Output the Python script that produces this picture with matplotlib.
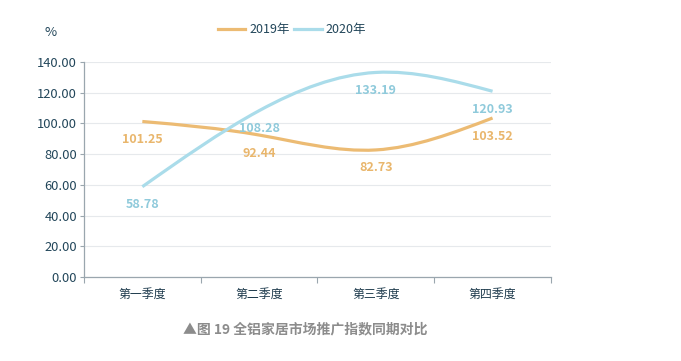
import numpy as np
import matplotlib
matplotlib.use('Agg')
import matplotlib.pyplot as plt
from matplotlib.path import Path
from matplotlib.patches import PathPatch
from matplotlib.lines import Line2D

plt.rcParams['font.family'] = ['Noto Sans CJK SC', 'DejaVu Sans']

quarters = ['第一季度', '第二季度', '第三季度', '第四季度']
series_names = ['2019年', '2020年']
v2019 = [101.25, 92.44, 82.73, 103.52]
v2020 = [58.78, 108.28, 133.19, 120.93]
colors = ['#ecbb73', '#aadcea']
label_colors = ['#e9b66c', '#8fcadb']
yticks = [0, 20, 40, 60, 80, 100, 120, 140]

fig = plt.figure(figsize=(6.81, 3.61), dpi=100)
ax = fig.add_axes([0.1233, 0.2327, 0.6857, 0.5956])
ax.set_xlim(-0.5, 3.5)
ax.set_ylim(0, 140)


def spline_path(xs, ys):
    # natural cubic spline through the points, written as bezier segments
    xs = np.asarray(xs, float)
    ys = np.asarray(ys, float)
    n = len(xs)
    h = np.diff(xs)
    A = np.zeros((n, n))
    b = np.zeros(n)
    A[0, 0] = A[-1, -1] = 1
    for i in range(1, n - 1):
        A[i, i - 1] = h[i - 1]
        A[i, i] = 2 * (h[i - 1] + h[i])
        A[i, i + 1] = h[i]
        b[i] = 6 * ((ys[i + 1] - ys[i]) / h[i] - (ys[i] - ys[i - 1]) / h[i - 1])
    M = np.linalg.solve(A, b)
    verts = [(xs[0], ys[0])]
    codes = [Path.MOVETO]
    for i in range(n - 1):
        d = (ys[i + 1] - ys[i]) / h[i]
        m0 = d - h[i] * (2 * M[i] + M[i + 1]) / 6
        m1 = d + h[i] * (M[i] + 2 * M[i + 1]) / 6
        verts += [(xs[i] + h[i] / 3, ys[i] + m0 * h[i] / 3),
                  (xs[i + 1] - h[i] / 3, ys[i + 1] - m1 * h[i] / 3),
                  (xs[i + 1], ys[i + 1])]
        codes += [Path.CURVE4] * 3
    return Path(verts, codes)


x = np.arange(len(quarters))
for vals, c, lc in zip([v2019, v2020], colors, label_colors):
    patch = PathPatch(spline_path(x, vals), facecolor='none', edgecolor=c,
                      lw=2.3, capstyle='butt', zorder=3)
    ax.add_patch(patch)
    for xi, v in zip(x, vals):
        ax.annotate(f'{v:.2f}', (xi, v), xytext=(0, -13), textcoords='offset points',
                    ha='center', va='center', fontsize=9, fontweight='bold',
                    color=lc, zorder=4)

ax.set_yticks(yticks)
ax.set_yticklabels([f'{t:.2f}' for t in yticks])
ax.yaxis.grid(True, color='#e6e9ec', lw=0.8)
ax.set_axisbelow(True)
ax.set_xticks(x)
ax.set_xticklabels(quarters)
ax.set_xticks(np.arange(-0.5, 4, 1), minor=True)
ax.tick_params(axis='x', which='major', length=0, pad=8, labelsize=8.6, colors='#1d3a4c')
ax.tick_params(axis='x', which='minor', length=4, color='#9aa6ae', width=0.8)
ax.tick_params(axis='y', length=3, color='#9aa6ae', width=0.8, labelsize=9.3,
               labelcolor='#22465a', pad=2)
for s in ['top', 'right']:
    ax.spines[s].set_visible(False)
for s in ['left', 'bottom']:
    ax.spines[s].set_color('#9aa6ae')
    ax.spines[s].set_linewidth(0.9)

fig.text(51 / 681, 1 - 33 / 361, '%', fontsize=9.5, color='#22465a', ha='center', va='center')

handles = [Line2D([0], [0], color=c, lw=2.3) for c in colors]
fig.legend(handles, series_names, loc='center', bbox_to_anchor=(292 / 681, 1 - 30 / 361),
           ncol=2, frameon=False, fontsize=9, handlelength=2.2, handletextpad=0.3,
           columnspacing=0.4, labelcolor='#22465a')

fig.text(305 / 681, 1 - 329 / 361, '▲图 19 全铝家居市场推广指数同期对比', fontsize=10,
         fontweight='bold', color='#8c8c8c', ha='center', va='center')

fig.savefig('out.png', dpi=100, facecolor='white')
